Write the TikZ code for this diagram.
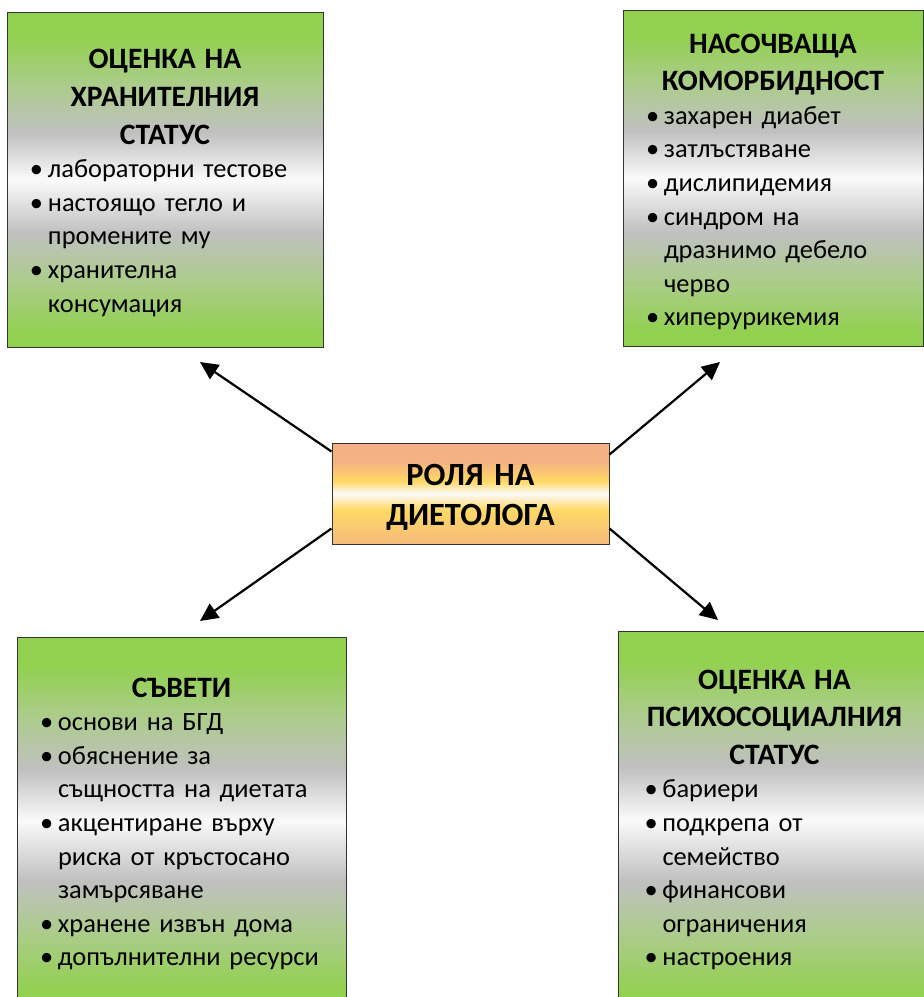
\documentclass[tikz,border=0pt]{standalone}
\usepackage{fontspec}
\setmainfont{Carlito}
\usepackage{tikz}
\usetikzlibrary{arrows.meta}

\definecolor{boxgreen}{RGB}{146,208,80}
\definecolor{greengrey}{RGB}{172,204,140}
\definecolor{metalgrey}{RGB}{192,192,192}
\definecolor{metalwhite}{RGB}{250,250,250}
\definecolor{rolesalmon}{RGB}{244,177,131}
\definecolor{roleyellow}{RGB}{255,217,102}
\definecolor{rolepeach}{RGB}{246,190,120}

\pgfdeclareverticalshading{greenmetal}{100bp}{color(0bp)=(boxgreen); color(27bp)=(boxgreen); color(35bp)=(greengrey); color(42bp)=(metalgrey); color(50bp)=(metalwhite); color(57bp)=(metalgrey); color(64bp)=(greengrey); color(71bp)=(boxgreen); color(100bp)=(boxgreen)}
\pgfdeclareverticalshading{rolemetal}{100bp}{color(0bp)=(rolepeach); color(27bp)=(rolepeach); color(42bp)=(roleyellow); color(50bp)=(metalwhite); color(56bp)=(roleyellow); color(66bp)=(rolesalmon); color(100bp)=(rolesalmon)}

\newcommand{\boxtext}[2][0pt]{\vbox{\vskip#1\relax #2}}
\newcommand{\boxhead}[1]{{\centering\fontsize{14.8}{18.8}\selectfont\bfseries #1\par}}
\newcommand{\bitem}[1]{\par\hangindent=9pt\hangafter=1\noindent\makebox[9pt][l]{\textbullet}#1\par}

\begin{document}
\begin{tikzpicture}[x=0.5pt, y=-0.5pt, font=\fontsize{13.2}{16.8}\selectfont,
  infobox/.style={draw=black!80, line width=0.5pt, shading=greenmetal, align=left, inner xsep=11.5pt, inner ysep=0pt},
  rolebox/.style={draw=black!80, line width=0.5pt, shading=rolemetal, align=center, inner ysep=0pt, font=\fontsize{16.2}{20}\selectfont\bfseries},
  arr/.style={line width=1.1pt, -{Triangle[length=9pt,width=8.5pt]}}]
	\useasboundingbox (0,0) rectangle (924,997);
	\clip (0,0) rectangle (924,997);
	\node[infobox, text width=135pt, minimum width=158pt, minimum height=167.5pt] (nutri) at (165,179.5) {\boxtext[3.5pt]{\boxhead{ОЦЕНКА НА\\ХРАНИТЕЛНИЯ\\СТАТУС}\bitem{лабораторни тестове}\bitem{настоящо тегло и\newline промените му}\bitem{хранителна\newline консумация}}};
	\node[infobox, text width=127pt, minimum width=150pt, minimum height=168pt] (comorb) at (773,178) {\boxtext[4pt]{\boxhead{НАСОЧВАЩА\\КОМОРБИДНОСТ}\bitem{захарен диабет}\bitem{затлъстяване}\bitem{дислипидемия}\bitem{синдром на\newline дразнимо дебело\newline черво}\bitem{хиперурикемия}}};
	\node[infobox, text width=141.5pt, minimum width=164.5pt, minimum height=184pt] (advice) at (181.5,821) {\boxtext[3pt]{\boxhead{СЪВЕТИ}\bitem{основи на БГД}\bitem{обяснение за\newline същността на диетата}\bitem{акцентиране върху\newline риска от кръстосано\newline замърсяване}\bitem{хранене извън дома}\bitem{допълнителни ресурси}}};
	\node[infobox, text width=130pt, minimum width=155.5pt, minimum height=189pt, inner xsep=13pt] (psycho) at (774.5,820) {\boxtext{\boxhead{ОЦЕНКА НА\\ПСИХОСОЦИАЛНИЯ\\СТАТУС}\bitem{бариери}\bitem{подкрепа от\newline семейство}\bitem{финансови\newline ограничения}\bitem{настроения}}};
	\node[rolebox, text width=130pt, minimum width=138.5pt, minimum height=50.5pt] (role) at (470.5,493.5) {\boxtext[4pt]{\centering РОЛЯ НА\\ДИЕТОЛОГА\par}};
	\coordinate (tipnutri) at (200,362);
	\coordinate (tipcomorb) at (720,362);
	\coordinate (tipadvice) at (200,621);
	\coordinate (tippsycho) at (718,620);
	\draw[arr] ([yshift=-4.5pt]role.north west) -- (tipnutri);
	\draw[arr] ([yshift=-6pt]role.north east) -- (tipcomorb);
	\draw[arr] ([yshift=8pt]role.south west) -- (tipadvice);
	\draw[arr] ([yshift=8pt]role.south east) -- (tippsycho);
\end{tikzpicture}
\end{document}
